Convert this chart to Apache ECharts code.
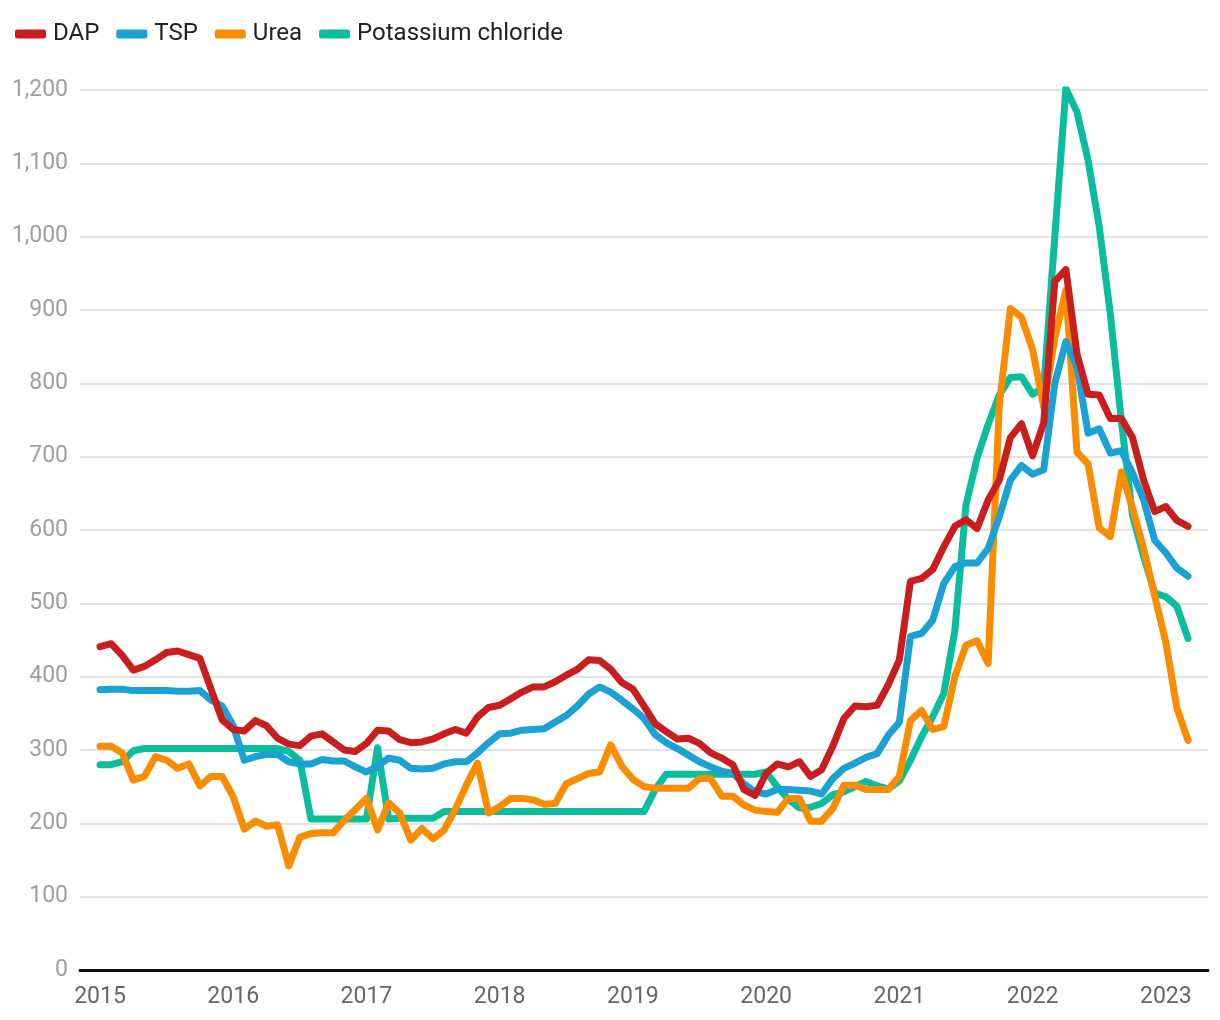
<!DOCTYPE html>
<html>
<head>
<meta charset="utf-8">
<script src="https://cdn.jsdelivr.net/npm/echarts@6/dist/echarts.min.js"></script>
<style>
  html, body { margin: 0; padding: 0; background: #ffffff; }
  #chart { width: 1220px; height: 1020px; }
</style>
</head>
<body>
<div id="chart"></div>
<script>
// Monthly prices, Jan 2015 .. Mar 2023 (index 0 = Jan 2015)
const startYear = 2015;
const yearTicks = [0, 12, 24, 36, 48, 60, 72, 84, 96];
const seriesNames = ['DAP', 'TSP', 'Urea', 'Potassium chloride'];

const dap = [441,445,429,409,414,423,433,435,430,425,383,341,
  328,326,340,333,316,308,306,319,322,311,300,298,
  309,327,326,314,310,311,315,322,328,323,345,358,
  361,370,379,386,386,393,402,410,423,422,410,392,
  383,360,336,325,315,316,309,296,289,280,246,238,
  268,281,277,284,264,273,305,343,360,359,361,389,
  423,530,534,546,577,605,614,602,641,668,726,745,
  701,746,939,955,840,785,784,752,752,726,668,625,
  632,613,605];

const tsp = [382,383,383,381,381,381,381,380,380,381,368,360,
  333,286,291,294,294,284,281,281,287,285,285,277,
  270,278,289,286,275,274,275,281,284,284,296,310,
  322,323,327,328,329,338,347,360,376,386,379,368,
  356,343,321,310,302,293,284,277,271,268,254,243,
  240,246,246,245,244,240,261,275,282,290,295,320,
  338,455,459,477,527,550,555,555,575,618,668,688,
  676,682,800,857,822,732,738,705,708,678,641,586,
  569,548,537];

const urea = [305,305,296,259,264,291,286,275,281,251,264,264,
  236,192,203,196,198,142,181,186,187,187,204,219,
  234,191,228,214,177,193,179,191,219,252,282,214,
  223,234,234,232,226,227,254,261,268,270,307,278,
  260,250,248,248,248,248,261,261,237,237,225,218,
  216,215,234,234,203,203,220,252,252,246,246,246,
  264,340,354,328,332,400,443,449,418,770,902,890,
  846,768,862,927,706,690,603,591,679,630,575,510,
  447,357,313];

const kcl = [280,280,284,299,302,302,302,302,302,302,302,302,
  302,302,302,302,302,298,286,206,206,206,206,206,
  206,303,206,207,207,207,207,216,216,216,216,216,
  216,216,216,216,216,216,216,216,216,216,216,216,
  216,216,246,267,267,267,267,267,267,267,267,267,
  270,250,233,221,222,227,239,243,250,257,251,247,
  258,286,318,345,377,463,634,698,744,784,808,809,
  785,794,1000,1202,1170,1104,1014,895,748,620,564,514,
  509,496,452];

const colors = ['#c81e1e', '#1ba2d2', '#f98c00', '#0abd9d'];

function pairs(arr) { return arr.map((v, i) => [i, v]); }
function commas(v) { return String(v).replace(/\B(?=(\d{3})+(?!\d))/g, ','); }

const chart = echarts.init(document.getElementById('chart'), null, { renderer: 'canvas' });
const allData = [dap, tsp, urea, kcl];

chart.setOption({
  animation: false,
  backgroundColor: '#ffffff',
  textStyle: { fontFamily: 'Roboto' },
  color: colors,
  legend: {
    left: 10, top: 17,
    itemWidth: 31, itemHeight: 9, itemGap: 17,
    icon: 'roundRect',
    data: seriesNames,
    textStyle: { fontSize: 24, color: '#222222', fontFamily: 'Roboto', padding: [0, 0, 0, 2] }
  },
  grid: { left: 80, right: 12, top: 90, bottom: 50, containLabel: false },
  xAxis: {
    type: 'value',
    min: -1.8, max: 99.8,
    axisLine: { show: true, lineStyle: { color: '#111111', width: 3 } },
    axisTick: { show: false },
    splitLine: { show: false },
    axisLabel: {
      customValues: yearTicks,
      formatter: v => String(startYear + Math.round(v / 12)),
      color: '#666666', fontSize: 23, margin: 16, fontFamily: 'Roboto'
    }
  },
  yAxis: {
    type: 'value',
    min: 0, max: 1200, interval: 100,
    axisLine: { show: false },
    axisTick: { show: false },
    splitLine: { lineStyle: { color: '#e3e3e3', width: 2 } },
    axisLabel: {
      formatter: v => commas(v),
      color: '#9e9e9e', fontSize: 23, margin: 12, fontFamily: 'Roboto'
    }
  },
  series: seriesNames.map((name, k) => ({
    name: name,
    type: 'line',
    data: pairs(allData[k]),
    showSymbol: false,
    symbol: 'none',
    z: 10 - k,
    lineStyle: { width: 7, color: colors[k], cap: 'round', join: 'round' },
    itemStyle: { color: colors[k] }
  }))
});
</script>
</body>
</html>
